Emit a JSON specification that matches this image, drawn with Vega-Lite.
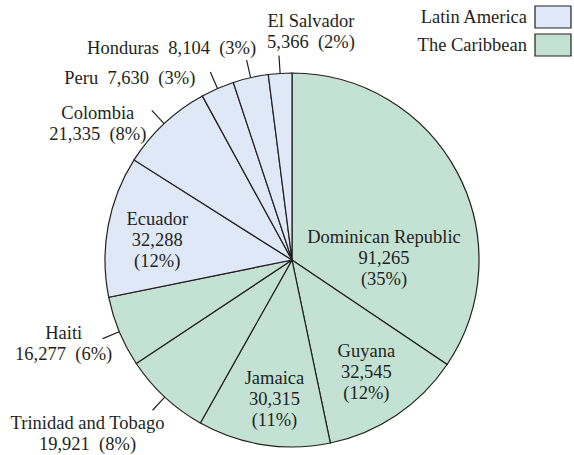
{
  "$schema": "https://vega.github.io/schema/vega-lite/v6.json",
  "width": 564,
  "height": 380,
  "autosize": {"type": "none"},
  "padding": {"left": 10, "top": 70, "right": 0, "bottom": 5},
  "background": "white",
  "data": {
    "values": [
      {"order": 1, "country": "Dominican Republic", "region": "The Caribbean", "value": 91265, "label": "Dominican Republic\n91,265\n(35%)"},
      {"order": 2, "country": "Guyana", "region": "The Caribbean", "value": 32545, "label": "Guyana\n32,545\n(12%)"},
      {"order": 3, "country": "Jamaica", "region": "The Caribbean", "value": 30315, "label": "Jamaica\n30,315\n(11%)"},
      {"order": 4, "country": "Trinidad and Tobago", "region": "The Caribbean", "value": 19921, "label": "Trinidad and Tobago\n19,921\u00a0 (8%)"},
      {"order": 5, "country": "Haiti", "region": "The Caribbean", "value": 16277, "label": "Haiti\n16,277\u00a0 (6%)"},
      {"order": 6, "country": "Ecuador", "region": "Latin America", "value": 32288, "label": "Ecuador\n32,288\n(12%)"},
      {"order": 7, "country": "Colombia", "region": "Latin America", "value": 21335, "label": "Colombia\n21,335\u00a0 (8%)"},
      {"order": 8, "country": "Peru", "region": "Latin America", "value": 7630, "label": "Peru\u00a0 7,630\u00a0 (3%)"},
      {"order": 9, "country": "Honduras", "region": "Latin America", "value": 8104, "label": "Honduras\u00a0 8,104\u00a0 (3%)"},
      {"order": 10, "country": "El Salvador", "region": "Latin America", "value": 5366, "label": "El Salvador\n5,366\u00a0 (2%)"}
    ]
  },
  "transform": [
    {"window": [{"op": "sum", "field": "value", "as": "cum"}], "sort": [{"field": "order"}], "frame": [null, 0]},
    {"window": [{"op": "mean", "field": "cum", "as": "mid"}], "sort": [{"field": "order"}], "frame": [-1, 0]}
  ],
  "layer": [
    {
      "mark": {"type": "arc", "radius": 187, "stroke": "#231f20", "strokeWidth": 1.2},
      "encoding": {
        "theta": {"field": "value", "type": "quantitative", "stack": true},
        "order": {"field": "order", "type": "quantitative"},
        "color": {
          "field": "region",
          "type": "nominal",
          "scale": {"domain": ["Latin America", "The Caribbean"], "range": ["#dfe8f6", "#c3e2d4"]},
          "legend": {
            "title": null,
            "orient": "none",
            "legendX": 531,
            "legendY": -65,
            "padding": 0,
            "rowPadding": 0,
            "symbolType": "M-1.636,-1H1.636V1H-1.636Z",
            "symbolSize": 484,
            "symbolStrokeColor": "#231f20",
            "symbolStrokeWidth": 1.2,
            "symbolOpacity": 1,
            "labelAlign": "right",
            "labelBaseline": "middle",
            "labelOffset": -38,
            "labelFont": "Liberation Serif",
            "labelFontSize": 18.5,
            "labelColor": "#231f20"
          }
        }
      }
    },
    {
      "transform": [{"filter": "datum.order >= 4 && datum.order != 6"}],
      "mark": {"type": "arc", "radius": 205, "radius2": 187, "fill": null, "stroke": "#231f20", "strokeWidth": 1.2},
      "encoding": {
        "theta": {"field": "mid", "type": "quantitative", "stack": null},
        "theta2": {"field": "mid"}
      }
    },
    {
      "transform": [{"filter": "datum.country === 'Dominican Republic'"}],
      "mark": {"type": "text", "radius": 0, "dx": 92, "dy": -23, "align": "center", "baseline": "middle"},
      "encoding": {"theta": {"field": "mid", "type": "quantitative", "stack": null}, "text": {"field": "label"}}
    },
    {
      "transform": [{"filter": "datum.country === 'Guyana'"}],
      "mark": {"type": "text", "radius": 135, "dx": -1, "dy": -21, "align": "center", "baseline": "middle"},
      "encoding": {"theta": {"field": "mid", "type": "quantitative", "stack": null}, "text": {"field": "label"}}
    },
    {
      "transform": [{"filter": "datum.country === 'Jamaica'"}],
      "mark": {"type": "text", "radius": 135, "dx": 3, "dy": -15, "align": "center", "baseline": "middle"},
      "encoding": {"theta": {"field": "mid", "type": "quantitative", "stack": null}, "text": {"field": "label"}}
    },
    {
      "transform": [{"filter": "datum.country === 'Ecuador'"}],
      "mark": {"type": "text", "radius": 135, "dx": -2, "dy": -17, "align": "center", "baseline": "middle"},
      "encoding": {"theta": {"field": "mid", "type": "quantitative", "stack": null}, "text": {"field": "label"}}
    },
    {
      "transform": [{"filter": "datum.country === 'El Salvador'"}],
      "mark": {"type": "text", "radius": 205, "dx": 32, "dy": -34, "align": "center", "baseline": "middle"},
      "encoding": {"theta": {"field": "mid", "type": "quantitative", "stack": null}, "text": {"field": "label"}}
    },
    {
      "transform": [{"filter": "datum.country === 'Honduras'"}],
      "mark": {"type": "text", "radius": 205, "dx": -75, "dy": -12, "align": "center", "baseline": "middle"},
      "encoding": {"theta": {"field": "mid", "type": "quantitative", "stack": null}, "text": {"field": "label"}}
    },
    {
      "transform": [{"filter": "datum.country === 'Peru'"}],
      "mark": {"type": "text", "radius": 205, "dx": -15, "dy": 6.5, "align": "right", "baseline": "middle"},
      "encoding": {"theta": {"field": "mid", "type": "quantitative", "stack": null}, "text": {"field": "label"}}
    },
    {
      "transform": [{"filter": "datum.country === 'Colombia'"}],
      "mark": {"type": "text", "radius": 205, "dx": -54, "dy": 2.5, "align": "center", "baseline": "middle"},
      "encoding": {"theta": {"field": "mid", "type": "quantitative", "stack": null}, "text": {"field": "label"}}
    },
    {
      "transform": [{"filter": "datum.country === 'Haiti'"}],
      "mark": {"type": "text", "radius": 205, "dx": -39, "dy": -6, "align": "center", "baseline": "middle"},
      "encoding": {"theta": {"field": "mid", "type": "quantitative", "stack": null}, "text": {"field": "label"}}
    },
    {
      "transform": [{"filter": "datum.country === 'Trinidad and Tobago'"}],
      "mark": {"type": "text", "radius": 205, "dx": -65, "dy": 13, "align": "center", "baseline": "middle"},
      "encoding": {"theta": {"field": "mid", "type": "quantitative", "stack": null}, "text": {"field": "label"}}
    }
  ],
  "config": {
    "view": {"stroke": null},
    "text": {"font": "Liberation Serif", "fontSize": 18.5, "lineHeight": 21, "fill": "#231f20", "lineBreak": "\n"}
  }
}
